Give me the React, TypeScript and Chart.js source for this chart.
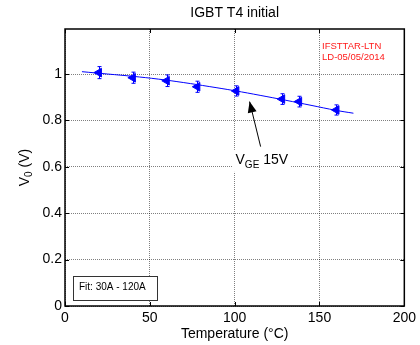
import React, { useEffect, useRef } from "react";
import { Chart, registerables } from "chart.js";

Chart.register(...registerables);

const tempC = [20, 40, 60, 78, 101, 128, 138, 160];
const v0 = [1.006, 0.984, 0.971, 0.945, 0.927, 0.892, 0.881, 0.845];
const v0Err = [0.026, 0.024, 0.025, 0.024, 0.022, 0.023, 0.023, 0.022];
const fitT = [10, 25, 40, 55, 70, 85, 100, 115, 130, 145, 160, 170];
const fitV = [1.01, 1.0, 0.99, 0.978, 0.963, 0.946, 0.928, 0.908, 0.887, 0.865, 0.843, 0.831];
const xTicks = [0, 50, 100, 150, 200];
const yTicks = [0, 0.2, 0.4, 0.6, 0.8, 1];

const FONT = "'Liberation Sans', Arial, sans-serif";

const decorPlugin = {
  id: "decor",
  afterDatasetsDraw(chart: any) {
    const { ctx, chartArea: a, scales } = chart;
    const xs = scales.x;
    const ys = scales.y;
    ctx.save();
    // error bars
    ctx.strokeStyle = "#0000ff";
    ctx.lineWidth = 1;
    tempC.forEach((t, i) => {
      const px = Math.round(xs.getPixelForValue(t)) + 0.5;
      const top = ys.getPixelForValue(v0[i] + v0Err[i]);
      const bot = ys.getPixelForValue(v0[i] - v0Err[i]);
      ctx.beginPath();
      ctx.moveTo(px, top);
      ctx.lineTo(px, bot);
      ctx.moveTo(px - 2, top);
      ctx.lineTo(px + 2, top);
      ctx.moveTo(px - 2, bot);
      ctx.lineTo(px + 2, bot);
      ctx.stroke();
    });
    // frame
    ctx.strokeStyle = "#000";
    ctx.lineWidth = 1.5;
    ctx.strokeRect(a.left, a.top, a.right - a.left, a.bottom - a.top);
    // inward tick marks
    ctx.lineWidth = 1;
    ctx.beginPath();
    yTicks.forEach((v) => {
      const py = Math.round(ys.getPixelForValue(v)) + 0.5;
      ctx.moveTo(a.left, py);
      ctx.lineTo(a.left + 4, py);
      ctx.moveTo(a.right, py);
      ctx.lineTo(a.right - 4, py);
    });
    xTicks.forEach((v) => {
      const px = Math.round(xs.getPixelForValue(v)) + 0.5;
      ctx.moveTo(px, a.bottom);
      ctx.lineTo(px, a.bottom - 4);
      ctx.moveTo(px, a.top);
      ctx.lineTo(px, a.top + 4);
    });
    ctx.stroke();

    // title
    ctx.fillStyle = "#000";
    ctx.font = `14px ${FONT}`;
    ctx.textAlign = "center";
    ctx.textBaseline = "middle";
    ctx.fillText("IGBT T4 initial", (a.left + a.right) / 2, 13);

    // x axis title
    ctx.fillText("Temperature (\u00B0C)", (a.left + a.right) / 2, 334);

    // y axis title with subscript
    ctx.save();
    ctx.translate(24, (a.top + a.bottom) / 2);
    ctx.rotate(-Math.PI / 2);
    ctx.font = `14px ${FONT}`;
    const w1 = ctx.measureText("V").width;
    ctx.font = `10px ${FONT}`;
    const w2 = ctx.measureText("0").width;
    ctx.font = `14px ${FONT}`;
    const w3 = ctx.measureText(" (V)").width;
    let sx = -(w1 + w2 + w3) / 2;
    ctx.textAlign = "left";
    ctx.textBaseline = "alphabetic";
    ctx.fillText("V", sx, 5);
    sx += w1;
    ctx.font = `10px ${FONT}`;
    ctx.fillText("0", sx, 8);
    sx += w2;
    ctx.font = `14px ${FONT}`;
    ctx.fillText(" (V)", sx, 5);
    ctx.restore();

    // red annotation
    ctx.fillStyle = "#ff1a1a";
    ctx.font = `9.5px ${FONT}`;
    ctx.textAlign = "left";
    ctx.textBaseline = "middle";
    ctx.fillText("IFSTTAR-LTN", 322, 46);
    ctx.fillText("LD-05/05/2014", 322, 57);

    // arrow
    const tipX = xs.getPixelForValue(108.8);
    const tipY = ys.getPixelForValue(0.881);
    const tailX = xs.getPixelForValue(115.3);
    const tailY = ys.getPixelForValue(0.687);
    ctx.strokeStyle = "#000";
    ctx.fillStyle = "#000";
    ctx.lineWidth = 1;
    ctx.beginPath();
    ctx.moveTo(tailX, tailY);
    ctx.lineTo(tipX, tipY);
    ctx.stroke();
    const ang = Math.atan2(tipY - tailY, tipX - tailX);
    const hl = 11;
    const hw = 4.5;
    const bx = tipX - hl * Math.cos(ang);
    const by = tipY - hl * Math.sin(ang);
    ctx.beginPath();
    ctx.moveTo(tipX, tipY);
    ctx.lineTo(bx + hw * Math.sin(ang), by - hw * Math.cos(ang));
    ctx.lineTo(bx - hw * Math.sin(ang), by + hw * Math.cos(ang));
    ctx.closePath();
    ctx.fill();

    // V_GE 15V label with white background
    const lx = xs.getPixelForValue(116);
    const ly = ys.getPixelForValue(0.63);
    ctx.font = `14px ${FONT}`;
    const a1 = ctx.measureText("V").width;
    ctx.font = `10px ${FONT}`;
    const a2 = ctx.measureText("GE").width;
    ctx.font = `14px ${FONT}`;
    const a3 = ctx.measureText(" 15V").width;
    const tw = a1 + a2 + a3;
    ctx.fillStyle = "#fff";
    ctx.fillRect(lx - tw / 2 - 3, ly - 10, tw + 6, 22);
    ctx.fillStyle = "#000";
    ctx.textAlign = "left";
    ctx.textBaseline = "alphabetic";
    let qx = lx - tw / 2;
    ctx.fillText("V", qx, ly + 4);
    qx += a1;
    ctx.font = `10px ${FONT}`;
    ctx.fillText("GE", qx, ly + 8);
    qx += a2;
    ctx.font = `14px ${FONT}`;
    ctx.fillText(" 15V", qx, ly + 4);

    // Fit box
    ctx.fillStyle = "#fff";
    ctx.fillRect(73.5, 276.5, 84, 24);
    ctx.strokeStyle = "#333";
    ctx.lineWidth = 1;
    ctx.strokeRect(73.5, 276.5, 84, 24);
    ctx.fillStyle = "#000";
    ctx.font = `10px ${FONT}`;
    ctx.textAlign = "left";
    ctx.textBaseline = "middle";
    ctx.fillText("Fit: 30A - 120A", 79, 287);
    ctx.restore();
  },
};

export default function App() {
  const ref = useRef<HTMLCanvasElement>(null);
  useEffect(() => {
    document.body.style.margin = "0";
    const chart = new Chart(ref.current!, {
      type: "scatter",
      data: {
        datasets: [
          {
            type: "line",
            data: fitT.map((t, i) => ({ x: t, y: fitV[i] })),
            borderColor: "#0000ff",
            borderWidth: 1,
            pointRadius: 0,
            tension: 0.4,
            fill: false,
          } as any,
          {
            data: tempC.map((t, i) => ({ x: t, y: v0[i] })),
            pointStyle: "triangle",
            rotation: -90,
            pointRadius: 5,
            backgroundColor: "#0000ff",
            borderColor: "#0000ff",
            borderWidth: 1,
          } as any,
        ],
      },
      options: {
        animation: false,
        responsive: false,
        maintainAspectRatio: false,
        layout: { padding: { top: 29, right: 15, left: 0, bottom: 0 } },
        plugins: {
          legend: { display: false },
          tooltip: { enabled: false },
        },
        scales: {
          x: {
            type: "linear",
            min: 0,
            max: 200,
            afterBuildTicks: (s: any) => {
              s.ticks = xTicks.map((v) => ({ value: v }));
            },
            afterFit: (s: any) => {
              s.height = 39;
            },
            ticks: {
              color: "#000",
              font: { family: FONT, size: 14 },
              padding: 4,
              maxRotation: 0,
            },
            grid: {
              color: "rgba(0,0,0,0.5)",
              lineWidth: 1,
              drawTicks: false,
            },
            border: { display: false, dash: [1, 1] },
          },
          y: {
            type: "linear",
            min: 0,
            max: 1.194,
            afterBuildTicks: (s: any) => {
              s.ticks = yTicks.map((v) => ({ value: v }));
            },
            afterFit: (s: any) => {
              s.width = 65;
            },
            ticks: {
              color: "#000",
              font: { family: FONT, size: 14 },
              padding: 3,
              callback: (v: any) => String(Math.round(Number(v) * 10) / 10),
            },
            grid: {
              color: "rgba(0,0,0,0.5)",
              lineWidth: 1,
              drawTicks: false,
            },
            border: { display: false, dash: [1, 1] },
          },
        },
      },
      plugins: [decorPlugin],
    } as any);
    return () => chart.destroy();
  }, []);
  return (
    <div style={{ width: 420, height: 345, background: "#fff" }}>
      <canvas ref={ref} width={420} height={345} style={{ display: "block" }} />
    </div>
  );
}
